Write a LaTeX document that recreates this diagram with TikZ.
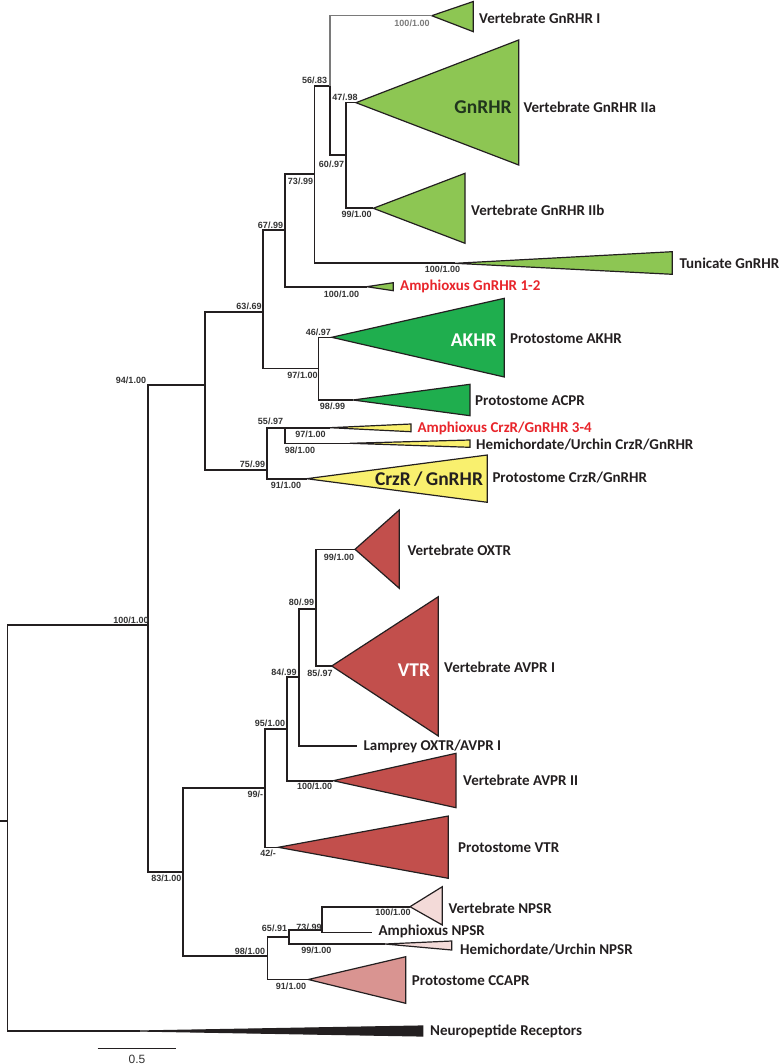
\documentclass[tikz,border=0pt]{standalone}
\usepackage{fontspec}
\setmainfont{Carlito}
\newfontfamily\supfont{Liberation Sans}
\usetikzlibrary{calc}
\definecolor{lgreen}{HTML}{8DC653}
\definecolor{dgreen}{HTML}{1FAE4E}
\definecolor{cyellow}{HTML}{F9F06E}
\definecolor{cred}{HTML}{C24F4C}
\definecolor{lpink}{HTML}{F3DAD8}
\definecolor{mpink}{HTML}{D99491}
\definecolor{tred}{HTML}{E8252B}
\definecolor{tblack}{HTML}{231F20}
\definecolor{sgray}{HTML}{333333}
\definecolor{bgray}{HTML}{7A7A7A}
\tikzset{
  br/.style={line width=1.6pt, draw=tblack},
  grbr/.style={line width=1.6pt, draw=bgray},
  tri/.style={line width=1.2pt, draw=tblack, line join=miter},
  lab/.style={anchor=west, inner sep=0pt, text=tblack, font=\fontsize{15}{18}\selectfont\bfseries},
  rlab/.style={lab, text=tred},
  sv/.style={inner sep=0pt, text=sgray, font=\supfont\fontsize{9}{10}\selectfont\bfseries},
  big/.style={inner sep=0pt, font=\fontsize{19.5}{22}\selectfont\bfseries},
}
\newcommand\clade[5]{\draw[tri, fill=#5] (#1) -- (#2,#3) -- (#2,#4) -- cycle;}
\begin{document}
\begin{tikzpicture}[x=1pt,y=-1pt]
\useasboundingbox (0,0) rectangle (780,1064);
% tree nodes
\coordinate (stub) at (0,820.7);
\coordinate (root) at (7.3,820.7);
\coordinate (nA) at (148,625);
\coordinate (nA1) at (205,385);
\coordinate (n63) at (262.7,312);
\coordinate (n67) at (285,230);
\coordinate (n73) at (314.3,174.3);
\coordinate (n56) at (330,86);
\coordinate (n60) at (345.7,155);
\coordinate (n97) at (318.3,368.3);
\coordinate (n75) at (266.7,470);
\coordinate (n55) at (285,427.7);
\coordinate (nA2) at (182.7,871.7);
\coordinate (n99) at (265,788);
\coordinate (n95) at (286.7,729);
\coordinate (n84) at (299,677);
\coordinate (n80) at (316,609);
\coordinate (n98) at (267.3,956);
\coordinate (n65) at (289,937);
\coordinate (n73b) at (321.7,930);
% tips
\coordinate (tI) at (431.7,15.7);
\coordinate (tIIa) at (356,102.7);
\coordinate (tIIb) at (373.3,208.3);
\coordinate (tTun) at (455,263.3);
\coordinate (tAmG) at (366.7,286.7);
\coordinate (tAKHR) at (331.7,337.3);
\coordinate (tACPR) at (353,400);
\coordinate (tAmC) at (330,427.7);
\coordinate (tHemC) at (350,443.3);
\coordinate (tCrz) at (306.7,478.7);
\coordinate (tOXTR) at (355,549.3);
\coordinate (tAVPRI) at (331.7,666);
\coordinate (tLam) at (356.7,745.7);
\coordinate (tAVPRII) at (333.3,780.7);
\coordinate (tPVTR) at (278.3,847.3);
\coordinate (tVNPSR) at (410,906.7);
\coordinate (tAmN) at (371.7,932.3);
\coordinate (tHemN) at (385,944);
\coordinate (tCCAPR) at (308.3,979.5);
\coordinate (tNeuro) at (140,1031);
% triangles
\clade{tI}{473.3}{1.5}{31.7}{lgreen}
\clade{tIIa}{518.7}{40}{165}{lgreen}
\clade{tIIb}{465}{173.3}{243.3}{lgreen}
\clade{tTun}{672.3}{251.7}{274.3}{lgreen}
\clade{tAmG}{393.3}{282.7}{290.7}{lgreen}
\clade{tAKHR}{504.3}{298.3}{377}{dgreen}
\clade{tACPR}{470}{384.3}{415.7}{dgreen}
\clade{tAmC}{411}{424}{431.7}{cyellow}
\clade{tHemC}{470}{440}{447.3}{cyellow}
\clade{tCrz}{487.3}{455}{502.3}{cyellow}
\clade{tOXTR}{399.3}{510}{588.3}{cred}
\clade{tAVPRI}{438.3}{596.7}{736}{cred}
\clade{tAVPRII}{456}{753.3}{807.7}{cred}
\clade{tPVTR}{448.3}{816}{878.3}{cred}
\clade{tVNPSR}{442.3}{886.7}{925}{lpink}
\clade{tHemN}{451.7}{941}{950}{lpink}
\clade{tCCAPR}{405.7}{956.7}{1003.3}{mpink}
\clade{tNeuro}{422.7}{1026}{1036}{tblack}
% branches
\draw[br] (stub) -- (root);
\draw[br] (root) |- (nA);
\draw[br] (root) |- (tNeuro);
\draw[br] (nA) |- (nA1);
\draw[br] (nA) |- (nA2);
\draw[br] (nA1) |- (n63);
\draw[br] (nA1) |- (n75);
\draw[br] (n63) |- (n67);
\draw[br] (n63) |- (n97);
\draw[br] (n67) |- (n73);
\draw[br] (n67) |- (tAmG);
\draw[br] (n73) |- (n56);
\draw[br] (n73) |- (tTun);
\draw[grbr] (n56) |- (tI);
\draw[br] (n56) |- (n60);
\draw[br] (n60) |- (tIIa);
\draw[br] (n60) |- (tIIb);
\draw[br] (n97) |- (tAKHR);
\draw[br] (n97) |- (tACPR);
\draw[br] (n75) |- (n55);
\draw[br] (n75) |- (tCrz);
\draw[br] (n55) |- (tAmC);
\draw[br] (n55) |- (tHemC);
\draw[br] (nA2) |- (n99);
\draw[br] (nA2) |- (n98);
\draw[br] (n99) |- (n95);
\draw[br] (n99) |- (tPVTR);
\draw[br] (n95) |- (n84);
\draw[br] (n95) |- (tAVPRII);
\draw[br] (n84) |- (n80);
\draw[br] (n84) |- (tLam);
\draw[br] (n80) |- (tOXTR);
\draw[br] (n80) |- (tAVPRI);
\draw[br] (n98) |- (n65);
\draw[br] (n98) |- (tCCAPR);
\draw[br] (n65) |- (n73b);
\draw[br] (n65) |- (tHemN);
\draw[br] (n73b) |- (tVNPSR);
\draw[br] (n73b) |- (tAmN);
% big clade texts
\node[big, text=tblack!90!green] (bGn) at (483,107) {GnRHR};
\node[big, text=white] (bAK) at (473.7,340) {AKHR};
\node[big, text=tblack] (bCr) at (429,479) {CrzR\,/\,GnRHR};
\node[big, text=white] (bVT) at (414,670) {VTR};
% tip labels
\node[lab] (lI) at (479,18.3) {Vertebrate GnRHR I};
\node[lab] (lIIa) at (523.3,107) {Vertebrate GnRHR IIa};
\node[lab] (lIIb) at (471,210) {Vertebrate GnRHR IIb};
\node[lab] (lTun) at (679.3,263.3) {Tunicate GnRHR};
\node[rlab] (lAmG) at (400,286.7) {Amphioxus GnRHR 1-2};
\node[lab] (lAK) at (510,338.3) {Protostome AKHR};
\node[lab] (lAC) at (475,401) {Protostome ACPR};
\node[rlab] (lAmC) at (417.3,428.3) {Amphioxus CrzR/GnRHR 3-4};
\node[lab] (lHemC) at (476,445) {Hemichordate/Urchin CrzR/GnRHR};
\node[lab] (lCrz) at (492.3,477.3) {Protostome CrzR/GnRHR};
\node[lab] (lOX) at (407.3,550.7) {Vertebrate OXTR};
\node[lab] (lAV1) at (444,667.3) {Vertebrate AVPR I};
\node[lab] (lLam) at (363.3,746) {Lamprey OXTR/AVPR I};
\node[lab] (lAV2) at (463,780) {Vertebrate AVPR II};
\node[lab] (lPV) at (458,848) {Protostome VTR};
\node[lab] (lVN) at (448.3,908.3) {Vertebrate NPSR};
\node[lab] (lAN) at (378.3,931.7) {Amphioxus NPSR};
\node[lab] (lHN) at (460,950) {Hemichordate/Urchin NPSR};
\node[lab] (lCC) at (411.7,980.7) {Protostome CCAPR};
\node[lab] (lNe) at (430,1031) {Neuropeptide Receptors};
% support values
\node[sv, text=bgray] (s1) at (412,23.3) {100/1.00};
\node[sv] (s2) at (314.7,80) {56/.83};
\node[sv] (s3) at (345,97) {47/.98};
\node[sv] (s4) at (331.5,164) {60/.97};
\node[sv] (s5) at (356.7,214.3) {99/1.00};
\node[sv] (s6) at (300.5,181.7) {73/.99};
\node[sv] (s7) at (442.5,269) {100/1.00};
\node[sv] (s8) at (341.5,294) {100/1.00};
\node[sv] (s9) at (270.5,225) {67/.99};
\node[sv] (s10) at (249,306.7) {63/.69};
\node[sv] (s11) at (318.3,332.7) {46/.97};
\node[sv] (s12) at (302.5,375.7) {97/1.00};
\node[sv] (s13) at (332.5,406.5) {98/.99};
\node[sv] (s14) at (270.5,421) {55/.97};
\node[sv] (s15) at (310.5,434) {97/1.00};
\node[sv] (s16) at (300,450) {98/1.00};
\node[sv] (s17) at (252.5,464) {75/.99};
\node[sv] (s18) at (286,485.7) {91/1.00};
\node[sv] (s19) at (131,380) {94/1.00};
\node[sv] (s20) at (131,620) {100/1.00};
\node[sv] (s21) at (339,557.3) {99/1.00};
\node[sv] (s22) at (301.5,602.7) {80/.99};
\node[sv] (s23) at (320,673.3) {85/.97};
\node[sv] (s24) at (284,672.3) {84/.99};
\node[sv] (s25) at (270,723.3) {95/1.00};
\node[sv] (s26) at (314.7,786) {100/1.00};
\node[sv] (s27) at (255.3,794) {99/-};
\node[sv] (s28) at (268,853.3) {42/-};
\node[sv] (s29) at (166.3,878.3) {83/1.00};
\node[sv] (s30) at (393,912.3) {100/1.00};
\node[sv] (s31) at (309,927.7) {73/.99};
\node[sv] (s32) at (274.5,928.3) {65/.91};
\node[sv] (s33) at (316.3,950.7) {99/1.00};
\node[sv] (s34) at (250,951) {98/1.00};
\node[sv] (s35) at (291,986.7) {91/1.00};
% scale bar
\coordinate (sb1) at (97.7,1048.3);
\coordinate (sb2) at (175.7,1048.3);
\draw[line width=1.4pt, draw=tblack] (sb1) -- (sb2);
\node[inner sep=0pt, text=sgray, font=\supfont\fontsize{12}{14}\selectfont] (sbl) at (137,1059.3) {0.5};
\end{tikzpicture}
\end{document}
